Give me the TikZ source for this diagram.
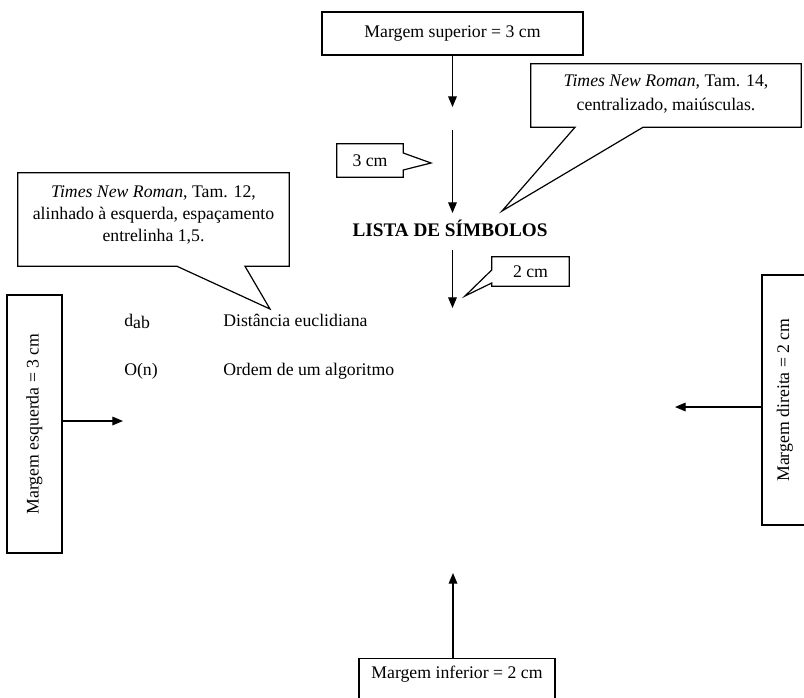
\documentclass[tikz,border=0pt]{standalone}
\usepackage{fontspec}
\setmainfont{Liberation Serif}
\usetikzlibrary{arrows.meta,calc}

\tikzset{
  txt/.style={font=\fontsize{13.3}{16.5}\selectfont, inner sep=0pt},
  frame/.style={draw, line width=0.9pt, inner sep=0pt, fill=white},
  callout/.style={draw, line width=0.9pt, fill=white, line join=miter},
  arr/.style={line width=0.9pt, -{Triangle[length=8pt,width=6.5pt]}},
}

\begin{document}
\begin{tikzpicture}[x=0.75pt,y=-0.75pt]
  \useasboundingbox (0,0) rectangle (804,697);
  \clip (0,0) rectangle (804,697);

  % --- top margin ---------------------------------------------------------
  \node[frame, txt, minimum width=195.75pt, minimum height=32.25pt] (top)
        at (452.5,33.5) {Margem superior = 3 cm};
  \coordinate (a1) at (452.5,107);
  \draw[arr] (top.south) -- (a1);

  \coordinate (a2s) at (452.5,130);
  \coordinate (a2e) at (452.5,213);
  \draw[arr] (a2s) -- (a2e);

  % --- title ------------------------------------------------------------------
  \node[inner sep=0pt, font=\fontsize{14.4}{17}\selectfont\bfseries] (title)
        at (450,228) {LISTA DE SÍMBOLOS};

  \coordinate (a3s) at (452.5,250);
  \coordinate (a3e) at (452.5,308);
  \draw[arr] (a3s) -- (a3e);

  % --- "3 cm" callout -------------------------------------------------------
  \node[minimum width=49.5pt, minimum height=24.75pt, inner sep=0pt] (c3)
        at (370,160.5) {};
  \coordinate (t3) at (431,163);
  \draw[callout] (c3.north west) -- (c3.north east)
       -- (c3.east |- 0,153) -- (t3) -- (c3.east |- 0,170)
       -- (c3.south east) -- (c3.south west) -- cycle;
  \node[txt] at (c3) {3 cm};

  % --- "2 cm" callout -------------------------------------------------------
  \node[minimum width=57.75pt, minimum height=21.75pt, inner sep=0pt] (c2)
        at (530.5,271.5) {};
  \coordinate (t2) at (465,296);
  \draw[callout] (c2.north west) -- (c2.north east) -- (c2.south east)
       -- (c2.south west) -- (c2.west |- 0,283) -- (t2) -- (c2.west |- 0,270)
       -- cycle;
  \node[txt] at (c2) {2 cm};

  % --- title font callout ---------------------------------------------------
  \node[minimum width=202.5pt, minimum height=47.25pt, inner sep=0pt] (c14)
        at (666,95.5) {};
  \coordinate (t14) at (502,211);
  \draw[callout] (c14.north west) -- (c14.north east) -- (c14.south east)
       -- (c14.south -| 643,0) -- (t14) -- (c14.south -| 575,0)
       -- (c14.south west) -- cycle;
  \node[txt, align=center, font=\fontsize{13.3}{18}\selectfont] (c14txt)
        at (666,94) {\textit{Times New Roman}, Tam. 14,\\centralizado, maiúsculas.};

  % --- list font callout ----------------------------------------------------
  \node[minimum width=203.25pt, minimum height=69.75pt, inner sep=0pt] (c12)
        at (153.5,219.5) {};
  \coordinate (t12) at (270,309);
  \draw[callout] (c12.north west) -- (c12.north east) -- (c12.south east)
       -- (c12.south -| 245,0) -- (t12) -- (c12.south -| 177,0)
       -- (c12.south west) -- cycle;
  \node[txt, align=center] (c12txt) at (153.5,215)
        {\textit{Times New Roman}, Tam. 12,\\alinhado à esquerda, espaçamento\\entrelinha 1,5.};

  % --- list of symbols -------------------------------------------------------
  \node[txt, anchor=base west] (s1) at (124,326) {d\raisebox{-0.35ex}{ab}};
  \node[txt, anchor=base west] (d1) at (223,326) {Distância euclidiana};
  \node[txt, anchor=base west] (s2) at (124,375) {O(n)};
  \node[txt, anchor=base west] (d2) at (223,375) {Ordem de um algoritmo};

  % --- left margin ----------------------------------------------------------
  \node[frame, minimum width=41.25pt, minimum height=193.5pt] (lm)
        at (34.5,424) {};
  \node[txt, rotate=90] (lmtxt) at (34.5,424) {Margem esquerda = 3 cm};
  \coordinate (a4) at (123,421);
  \draw[arr] (lm.east |- a4) -- (a4);

  % --- right margin ---------------------------------------------------------
  \node[frame, minimum width=34.5pt, minimum height=187.5pt] (rm)
        at (785,400) {};
  \node[txt, rotate=90] (rmtxt) at (785,400) {Margem direita = 2 cm};
  \coordinate (a5) at (675,407);
  \draw[arr] (rm.west |- a5) -- (a5);

  % --- bottom margin --------------------------------------------------------
  \node[frame, minimum width=147pt, minimum height=40pt] (bot)
        at (457,685.5) {};
  \node[txt] (bottxt) at (457,674) {Margem inferior = 2 cm};
  \coordinate (a6) at (453,573);
  \draw[arr] (a6 |- bot.north) -- (a6);
\end{tikzpicture}
\end{document}
